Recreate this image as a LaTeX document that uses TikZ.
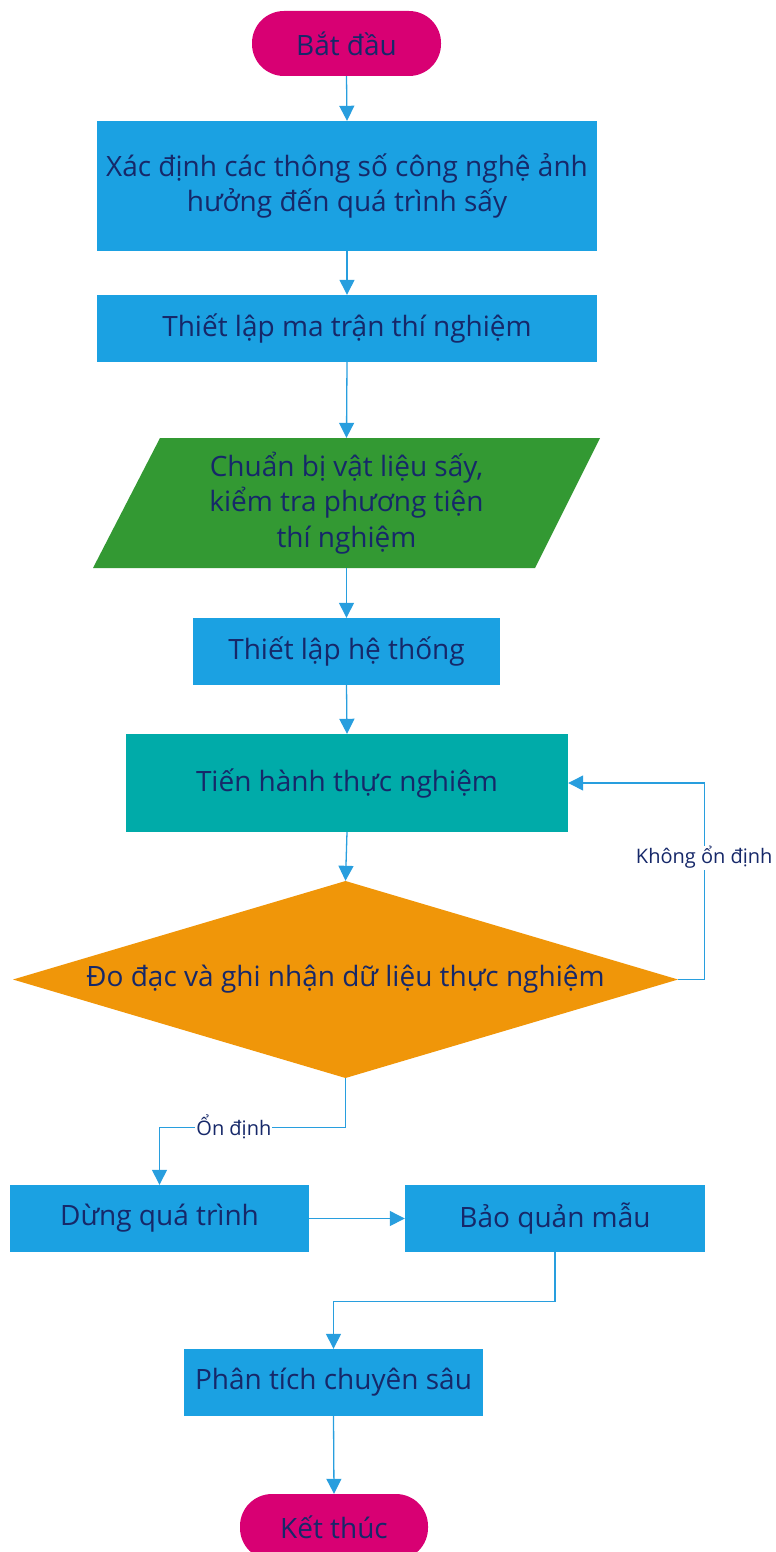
\documentclass[tikz,border=0pt]{standalone}
\usepackage{fontspec}
\setmainfont{Open Sans}
\usetikzlibrary{arrows.meta}
\definecolor{txt}{RGB}{22,40,105}
\definecolor{termc}{RGB}{216,0,115}
\definecolor{procc}{RGB}{27,161,226}
\definecolor{datac}{RGB}{51,153,51}
\definecolor{tealc}{RGB}{0,171,169}
\definecolor{decc}{RGB}{240,150,9}
\definecolor{linec}{RGB}{40,158,222}
\tikzset{
  base/.style={text=txt, font=\fontsize{28pt}{35.5pt}\selectfont, align=center, inner sep=0pt},
  term/.style={base, fill=termc, rounded corners=32pt, minimum width=189pt, minimum height=65pt},
  proc/.style={base, fill=procc, minimum height=67pt},
  flow/.style={draw=linec, line width=1.3pt, -{Triangle[length=15pt,width=15pt]}},
  lbl/.style={text=txt, font=\fontsize{20pt}{24pt}\selectfont, fill=white, inner sep=1pt}
}
\begin{document}
\begin{tikzpicture}[x=1pt, y=-1pt]
  \useasboundingbox (0,0) rectangle (776,1552);
  \clip (0,0) rectangle (776,1552);

  % terminal and process boxes
  \node[term] (start) at (346.5,43.5) {Bắt đầu};
  \node[proc, minimum width=500pt, minimum height=130pt] (b1) at (347,186)
    {Xác định các thông số công nghệ ảnh\\hưởng đến quá trình sấy};
  \node[proc, minimum width=500pt] (b2) at (347,328.5) {Thiết lập ma trận thí nghiệm};

  % input/preparation parallelogram
  \fill[datac] (160,438) -- (600,438) -- (535,568) -- (93,568) -- cycle;
  \node[base, minimum width=300pt, minimum height=130pt] (par) at (346.5,503)
    {Chuẩn bị vật liệu sấy,\\kiểm tra phương tiện\\thí nghiệm};

  \node[proc, minimum width=307pt] (b3) at (346.5,651.5) {Thiết lập hệ thống};
  \node[base, fill=tealc, minimum width=442pt, minimum height=98pt] (b4) at (347,783)
    {Tiến hành thực nghiệm};

  % decision diamond
  \fill[decc] (345.5,881) -- (678,979.5) -- (345.5,1078) -- (13,979.5) -- cycle;
  \node[base, minimum width=665pt, minimum height=197pt] (dec) at (345.5,979.5)
    {Đo đạc và ghi nhận dữ liệu thực nghiệm};

  \node[proc, minimum width=299pt] (b5) at (159.5,1218.5) {Dừng quá trình};
  \node[proc, minimum width=300pt] (b6) at (555,1218.5) {Bảo quản mẫu};
  \node[proc, minimum width=299pt] (b7) at (333.5,1382.5) {Phân tích chuyên sâu};
  \node[term, minimum width=188pt, minimum height=66pt] (end) at (334,1527) {Kết thúc};

  % connectors
  \draw[flow] (start.south) -- (b1.north);
  \draw[flow] (b1.south) -- (b2.north);
  \draw[flow] (b2.south) -- (par.north);
  \draw[flow] (par.south) -- (b3.north);
  \draw[flow] (b3.south) -- (b4.north);
  \draw[flow] (b4.south) -- (dec.north);
  \draw[flow] (dec.east) -- ++(26,0) coordinate (loopc)
    |- node[lbl, pos=0.31] {Không ổn định} (b4.east);
  \draw[flow] (dec.south) -- ++(0,49) coordinate (okc)
    -| node[lbl, pos=0.3] {Ổn định} (b5.north);
  \draw[flow] (b5.east) -- (b6.west);
  \draw[flow] (b6.south) -- ++(0,49) coordinate (stc) -| (b7.north);
  \draw[flow] (b7.south) -- (end.north);
\end{tikzpicture}
\end{document}
